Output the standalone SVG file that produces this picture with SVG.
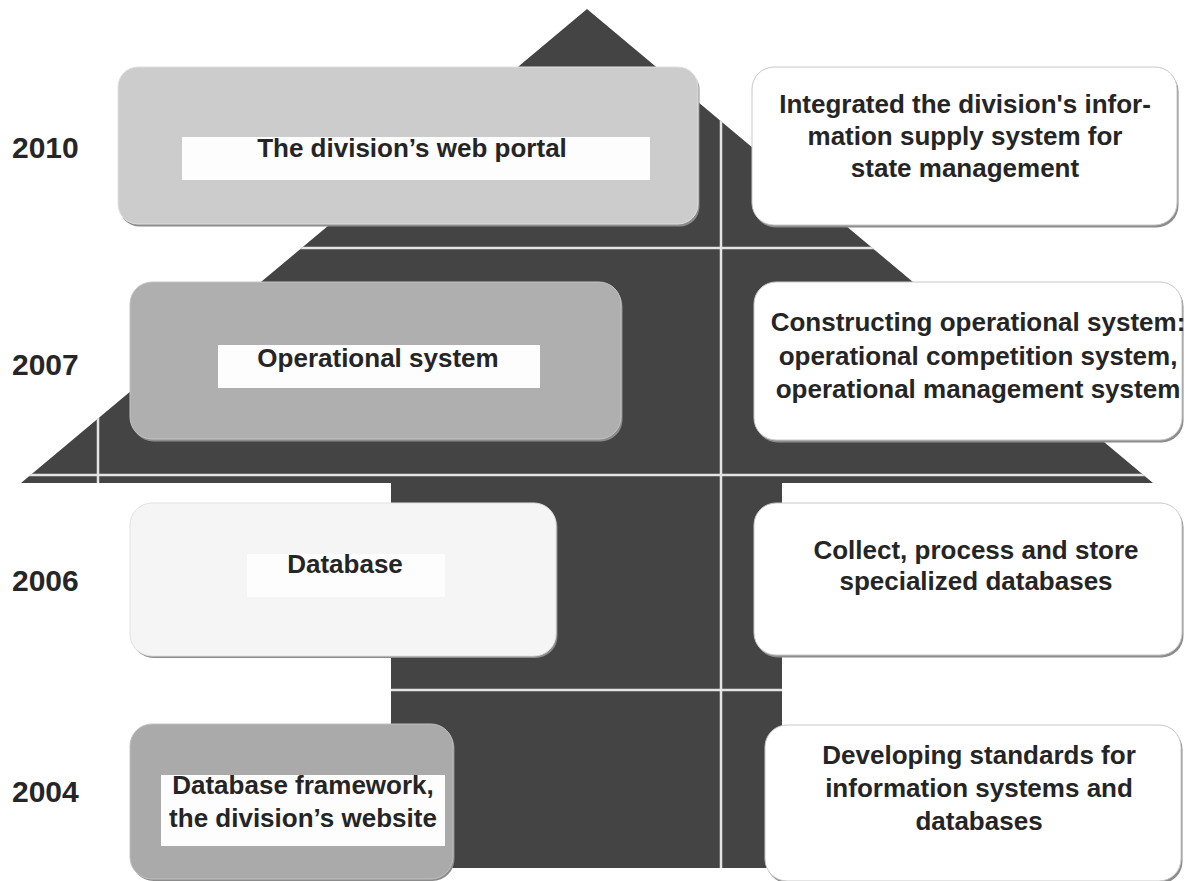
<svg xmlns="http://www.w3.org/2000/svg" width="1185" height="881" viewBox="0 0 1185 881">
<defs>
<style>
.t{font-family:"Liberation Sans",Arial,sans-serif;font-weight:bold;font-size:26px;fill:#252525;text-anchor:middle}
.yr{font-family:"Liberation Sans",Arial,sans-serif;font-weight:bold;font-size:30px;fill:#262626}
.sh{fill:#8c8c8c}
.rb{fill:#ffffff;stroke:#c8c8c8;stroke-width:1}
.lbl{fill:#fdfdfd}
.wl{stroke:#e4e4e4;stroke-width:2.5;fill:none}
</style>
<clipPath id="treeClip">
<path d="M587,9 L1153,483 L782,483 L782,868 L391,868 L391,483 L21,483 Z"/>
</clipPath>
</defs>
<rect width="1185" height="881" fill="#ffffff"/>
<g id="tree">
<path d="M587,9 L1153,483 L782,483 L782,868 L391,868 L391,483 L21,483 Z" fill="#444444"/>
<g clip-path="url(#treeClip)">
<line class="wl" x1="0" y1="248" x2="1185" y2="248"/>
<line class="wl" x1="0" y1="475" x2="1185" y2="475"/>
<line class="wl" x1="391" y1="690" x2="782" y2="690"/>
<line class="wl" x1="721" y1="0" x2="721" y2="868"/>
<line class="wl" x1="98" y1="400" x2="98" y2="483"/>
</g>
</g>
<g id="years">
<text class="yr" x="12" y="158">2010</text>
<text class="yr" x="12" y="375">2007</text>
<text class="yr" x="12" y="591">2006</text>
<text class="yr" x="12" y="802">2004</text>
</g>
<g id="node-web-portal">
<rect class="sh" x="119.5" y="69.5" width="580" height="157" rx="20"/>
<rect x="118" y="67" width="580" height="157" rx="20" fill="#cccccc" stroke="#e0e0e0" stroke-width="1"/>
<rect class="lbl" x="182" y="137" width="468" height="43"/>
<text class="t" x="412" y="157">The division’s web portal</text>
</g>
<g id="node-operational">
<rect class="sh" x="131.5" y="284.5" width="491" height="157" rx="22"/>
<rect x="130" y="282" width="491" height="157" rx="22" fill="#afafaf" stroke="#c4c4c4" stroke-width="1"/>
<rect class="lbl" x="218" y="345" width="322" height="43"/>
<text class="t" x="378" y="367">Operational system</text>
</g>
<g id="node-database">
<rect class="sh" x="131.5" y="505" width="426" height="153" rx="22" fill="#a8a8a8"/>
<rect x="130" y="503" width="426" height="153" rx="22" fill="#f5f5f5" stroke="#e2e2e2" stroke-width="1"/>
<rect class="lbl" x="247" y="554" width="198" height="43"/>
<text class="t" x="345" y="573">Database</text>
</g>
<g id="node-db-framework">
<rect class="sh" x="131.5" y="726" width="323" height="155" rx="22"/>
<rect x="130" y="724" width="323" height="155" rx="22" fill="#aaaaaa" stroke="#c0c0c0" stroke-width="1"/>
<rect class="lbl" x="161" y="775" width="284" height="71"/>
<text class="t" x="303" y="794">Database framework,</text>
<text class="t" x="303" y="827">the division’s website</text>
</g>
<g id="node-integrated">
<rect class="sh" x="753.5" y="69.5" width="425" height="158" rx="22"/>
<rect class="rb" x="752" y="67" width="425" height="158" rx="22"/>
<text class="t" x="965" y="113">Integrated the division's infor-</text>
<text class="t" x="965" y="145">mation supply system for</text>
<text class="t" x="965" y="177">state management</text>
</g>
<g id="node-constructing">
<rect class="sh" x="755.5" y="284.5" width="428" height="158" rx="22"/>
<rect class="rb" x="754" y="282" width="428" height="158" rx="22"/>
<text class="t" x="978" y="331">Constructing operational system:</text>
<text class="t" x="978" y="365">operational competition system,</text>
<text class="t" x="978" y="398">operational management system</text>
</g>
<g id="node-collect">
<rect class="sh" x="755.5" y="505.5" width="428" height="152" rx="22"/>
<rect class="rb" x="754" y="503" width="428" height="152" rx="22"/>
<text class="t" x="976" y="559">Collect, process and store</text>
<text class="t" x="976" y="590">specialized databases</text>
</g>
<g id="node-standards">
<rect class="sh" x="766.5" y="727.5" width="416" height="156" rx="22"/>
<rect class="rb" x="765" y="725" width="416" height="156" rx="22"/>
<text class="t" x="979" y="764">Developing standards for</text>
<text class="t" x="979" y="797">information systems and</text>
<text class="t" x="979" y="830">databases</text>
</g>
</svg>
